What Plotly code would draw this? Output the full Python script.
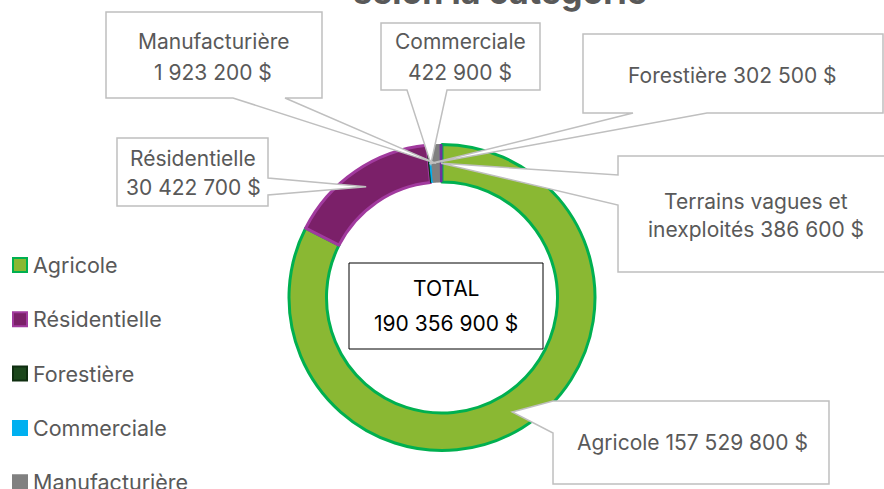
import math
import plotly.graph_objects as go

# ---------------- data ----------------
categories = ["Agricole", "Résidentielle", "Forestière", "Commerciale",
              "Manufacturière", "Terrains vagues et inexploités"]
values = [157529800, 30422700, 302500, 422900, 1923200, 386600]
total_label = ["TOTAL", "190 356 900 $"]
title_text = "selon la catégorie"

# ---------------- styles ----------------
fill_colors = ["#8AB833", "#7B2069", "#1C471C", "#00B0F0", "#808080", "#7030A0"]
line_colors = ["#00B050", "#A13A9E", "#0F2E10", "#00B0F0", "#808080", "#7030A0"]
line_widths = [3, 3, 1, 1, 1, 1]

W, H = 884, 489
FONT = "Inter"
TXT = "#595959"
BOX = "#BFBFBF"
FS = 21


def X(px):
    return px / W


def Y(py):
    return 1 - py / H


# pie geometry (pixels)
cx, cy, R = 442, 297.5, 153
hole = 0.755

fig = go.Figure(go.Pie(
    labels=categories, values=values, sort=False, direction="clockwise",
    rotation=0, hole=hole, textinfo="none", hoverinfo="label+value",
    marker=dict(colors=fill_colors, line=dict(color=line_colors, width=line_widths)),
    domain=dict(x=[X(cx - R), X(cx + R)], y=[Y(cy + R), Y(cy - R)]),
    showlegend=False,
))

# mid-angle tips of slices (computed from values)
tot = sum(values)
r_mid = (R + R * hole) / 2
tips = []
acc = 0
for v in values:
    a = (acc + v / 2) / tot * 2 * math.pi
    tips.append((cx + r_mid * math.sin(a), cy - r_mid * math.cos(a)))
    acc += v


def fmt(v):
    return f"{v:,}".replace(",", " ") + " $"


# callout layout: box (x0,y0,x1,y1), pointer side & attach points, wrap word count, line spacing, text centre
callouts = [
    dict(box=(553, 401, 829, 484), side="left", att=(401, 433), wrap=None, dy=30, tc=(692, 442)),
    dict(box=(117, 138, 268, 206), side="right", att=(178, 195), wrap=1, dy=29, tc=(193, 173)),
    dict(box=(583, 34, 883, 113), side="bottom", att=(633, 707), wrap=None, dy=30, tc=(732, 75)),
    dict(box=(381, 23, 540, 90), side="bottom", att=(407, 447), wrap=1, dy=30, tc=(460, 57)),
    dict(box=(106, 12, 322, 98), side="bottom", att=(233, 285), wrap=1, dy=30, tc=(213, 57)),
    dict(box=(618, 156, 950, 272), side="left", att=(175, 205), wrap=3, dy=28, tc=(756, 215)),
]

shapes = []
annotations = []

for i, c in enumerate(callouts):
    x0, y0, x1, y1 = c["box"]
    tx, ty = tips[i]
    a0, a1 = c["att"]
    if c["side"] == "bottom":
        pts = [(x0, y0), (x1, y0), (x1, y1), (a1, y1), (tx, ty), (a0, y1), (x0, y1)]
    elif c["side"] == "left":
        pts = [(x0, y0), (x1, y0), (x1, y1), (x0, y1), (x0, a1), (tx, ty), (x0, a0)]
    else:  # right
        pts = [(x0, y0), (x1, y0), (x1, a0), (tx, ty), (x1, a1), (x1, y1), (x0, y1)]
    path = "M " + " L ".join(f"{X(p[0]):.5f},{Y(p[1]):.5f}" for p in pts) + " Z"
    shapes.append(dict(type="path", path=path, xref="paper", yref="paper",
                       fillcolor="white", line=dict(color=BOX, width=1.5), layer="above"))
    label = categories[i] + " " + fmt(values[i])
    if c["wrap"]:
        w = label.split(" ")
        lines = [" ".join(w[:c["wrap"]]), " ".join(w[c["wrap"]:])]
    else:
        lines = [label]
    bx, by = c["tc"]
    n = len(lines)
    for k, ln in enumerate(lines):
        ly = by + (k - (n - 1) / 2) * c["dy"]
        annotations.append(dict(x=X(bx), y=Y(ly), xref="paper", yref="paper", text=ln,
                                showarrow=False, xanchor="center", yanchor="middle",
                                font=dict(family=FONT, size=FS, color=TXT)))

# total box
shapes.append(dict(type="rect", xref="paper", yref="paper", x0=X(349), x1=X(543), y0=Y(349), y1=Y(263),
                   fillcolor="white", line=dict(color="black", width=1), layer="above"))
for k, ln in enumerate(total_label):
    annotations.append(dict(x=X(446), y=Y(288 + k * 35), xref="paper", yref="paper", text=ln,
                            showarrow=False, xanchor="center", yanchor="middle",
                            font=dict(family=FONT, size=FS, color="black")))

# manual legend
for i, name in enumerate(categories):
    yc = 265 + i * 54.3
    shapes.append(dict(type="rect", xref="paper", yref="paper", x0=X(13), x1=X(27),
                       y0=Y(yc + 7), y1=Y(yc - 7), fillcolor=fill_colors[i],
                       line=dict(color=line_colors[i], width=2), layer="above"))
    annotations.append(dict(x=X(31), y=Y(yc), xref="paper", yref="paper", text=name,
                            showarrow=False, xanchor="left", yanchor="middle",
                            font=dict(family=FONT, size=21.5, color=TXT)))

# title (cut by top edge)
annotations.append(dict(x=X(500), y=Y(-9), xref="paper", yref="paper", text="<b>" + title_text + "</b>",
                        showarrow=False, xanchor="center", yanchor="middle",
                        font=dict(family=FONT, size=34, color=TXT)))

fig.update_layout(width=W, height=H, margin=dict(l=0, r=0, t=0, b=0),
                  paper_bgcolor="white", plot_bgcolor="white",
                  shapes=shapes, annotations=annotations, showlegend=False)
fig.write_html("out.html")
